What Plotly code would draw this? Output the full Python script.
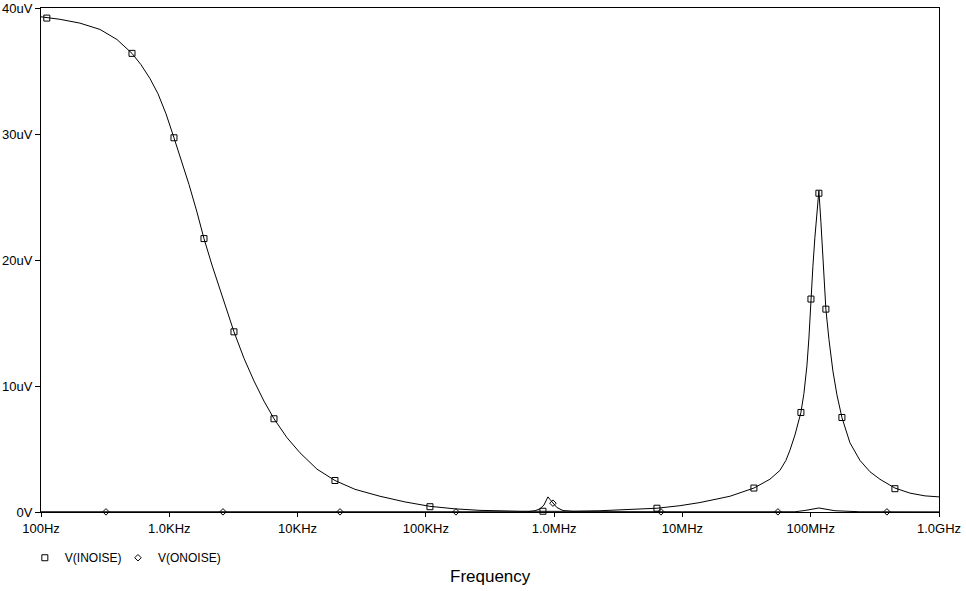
import plotly.graph_objects as go

# ---- data ----
freq_in = [100, 141, 201, 288, 391, 512, 602, 707, 816, 943, 1088, 1256, 1424, 1644,
           1864, 2152, 2485, 2817, 3194, 3821, 4573, 5472, 6549, 8268, 10440, 14170,
           19560, 28020, 43880, 68720, 107600, 168600, 264100, 541400, 1.11e6,
           2.275e6, 3.897e6, 6.33e6, 9.561e6, 13.69e6, 23.46e6, 36.08e6, 48.08e6,
           57.54e6, 64.1e6, 68.85e6, 75.32e6, 83.87e6, 88.51e6, 93.4e6, 96.83e6,
           100.4e6, 104.0e6, 107.8e6, 111.8e6, 115.8e6, 120.1e6, 124.5e6, 131.3e6,
           138.7e6, 148.9e6, 160.1e6, 175.1e6, 202.1e6, 241.8e6, 289.3e6, 346.3e6,
           453.2e6, 593.3e6, 776.6e6, 1e9]
inoise_uV = [39.3, 39.1, 38.8, 38.3, 37.5, 36.4, 35.5, 34.4, 33.2, 31.6, 29.7, 27.8, 26.0, 23.8,
             21.7, 19.6, 17.6, 15.9, 14.3, 12.2, 10.4, 8.8, 7.4, 5.9, 4.7, 3.4,
             2.5, 1.8, 1.25, 0.8, 0.45, 0.25, 0.13, 0.06, 0.05,
             0.1, 0.18, 0.3, 0.5, 0.75, 1.25, 1.9, 2.6,
             3.3, 4.1, 4.9, 6.1, 7.9, 9.4, 11.6, 13.8,
             16.9, 19.5, 21.8, 24.0, 25.5, 23.0, 20.0, 16.1,
             13.7, 11.2, 9.3, 7.5, 5.5, 4.1, 3.2, 2.6,
             1.9, 1.5, 1.28, 1.2]

freq_out = [100, 1000, 10000, 100000, 613800, 708800, 775100, 832700, 863300, 894800,
            927500, 978700, 1.0515e6, 1.1714e6, 1.4524e6, 10e6, 75.32e6, 90.1e6,
            115.8e6, 154.4e6, 241.8e6, 1e9]
onoise_uV = [0.02, 0.02, 0.02, 0.02, 0.02, 0.1, 0.25, 0.55, 0.9, 1.2,
             1.0, 0.7, 0.35, 0.12, 0.03, 0.02, 0.02, 0.12,
             0.32, 0.1, 0.02, 0.01]

mark_in_f = [111, 512, 1088, 1864, 3194, 6549, 19560, 107600, 817800, 6.33e6,
             36.08e6, 83.87e6, 100.4e6, 115.8e6, 131.3e6, 175.1e6, 453.2e6]
mark_in_v = [39.2, 36.4, 29.7, 21.7, 14.3, 7.4, 2.5, 0.42, 0.06, 0.3,
             1.9, 7.9, 16.9, 25.3, 16.1, 7.5, 1.85]

mark_out_f = [321, 2622, 21400, 171700, 978700, 6.80e6, 55.5e6, 392.6e6]
mark_out_v = [0.01, 0.01, 0.01, 0.01, 0.7, 0.01, 0.01, 0.01]

x_tickvals = [1e2, 1e3, 1e4, 1e5, 1e6, 1e7, 1e8, 1e9]
x_ticktext = ["100Hz", "1.0KHz", "10KHz", "100KHz", "1.0MHz", "10MHz", "100MHz", "1.0GHz"]
y_tickvals = [0, 10, 20, 30, 40]
y_ticktext = ["0V", "10uV", "20uV", "30uV", "40uV"]

FONT = "Liberation Sans, Arial, sans-serif"

fig = go.Figure()
fig.add_trace(go.Scatter(x=freq_in, y=inoise_uV, mode="lines",
                         line=dict(color="black", width=1), showlegend=False,
                         hoverinfo="skip"))
fig.add_trace(go.Scatter(x=freq_out, y=onoise_uV, mode="lines",
                         line=dict(color="black", width=1), showlegend=False,
                         hoverinfo="skip"))
fig.add_trace(go.Scatter(x=mark_in_f, y=mark_in_v, mode="markers", name="V(INOISE)",
                         marker=dict(symbol="square-open", size=6, color="black",
                                     line=dict(width=1, color="black")),
                         cliponaxis=False, legend="legend"))
fig.add_trace(go.Scatter(x=mark_out_f, y=mark_out_v, mode="markers", name="V(ONOISE)",
                         marker=dict(symbol="diamond-open", size=5, color="black",
                                     line=dict(width=1, color="black")),
                         cliponaxis=False, legend="legend2"))

leg_common = dict(orientation="h", xanchor="left", y=-0.062, yanchor="top",
                  font=dict(family=FONT, size=12, color="black"),
                  itemwidth=30, bgcolor="rgba(0,0,0,0)")

fig.update_layout(
    width=966, height=591,
    margin=dict(l=41, r=27, t=8, b=79, autoexpand=False),
    paper_bgcolor="white", plot_bgcolor="white",
    font=dict(family=FONT, size=13, color="black"),
    showlegend=True,
    legend=dict(x=-0.018, **leg_common),
    legend2=dict(x=0.0857, **leg_common),
    xaxis=dict(type="log", range=[2, 9], tickvals=x_tickvals, ticktext=x_ticktext,
               showgrid=False, zeroline=False, showline=True, linecolor="black",
               linewidth=1, mirror=True, ticks="outside", ticklen=4,
               tickcolor="black", automargin=False,
               tickfont=dict(family=FONT, size=13, color="black")),
    yaxis=dict(range=[0, 40], tickvals=y_tickvals, ticktext=y_ticktext,
               showgrid=False, zeroline=False, showline=True, linecolor="black",
               linewidth=1, mirror=True, ticks="outside", ticklen=5,
               tickcolor="black", automargin=False,
               tickfont=dict(family=FONT, size=13, color="black")),
    annotations=[dict(text="Frequency", xref="paper", yref="paper", x=0.5, y=-0.127,
                      xanchor="center", yanchor="middle", showarrow=False,
                      font=dict(family=FONT, size=17, color="black"))],
)

fig.write_html("out.html")
